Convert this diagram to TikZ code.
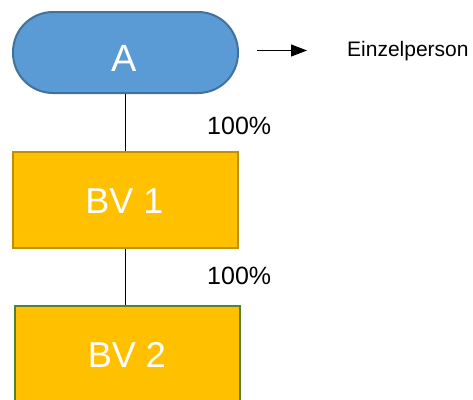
\documentclass[tikz,border=0pt]{standalone}
\usepackage{fontspec}
\setmainfont{Liberation Sans}
\usetikzlibrary{arrows.meta}
\definecolor{ablue}{HTML}{5B9BD5}
\definecolor{ablueb}{HTML}{41719C}
\definecolor{goldf}{HTML}{FFC000}
\definecolor{goldb}{HTML}{BF9000}
\definecolor{greenb}{HTML}{548235}
\tikzset{
  pill/.style={draw=ablueb, fill=ablue, line width=2pt, rounded corners=40pt, minimum width=225pt, minimum height=81pt, inner sep=0pt},
  bvbox/.style={fill=goldf, line width=2pt, minimum width=225pt, inner sep=0pt},
  conn/.style={draw=black, line width=1.5pt},
  boxtext/.style={text=white, inner sep=0pt, anchor=base},
  pct/.style={inner sep=0pt, anchor=base west, font=\fontsize{25}{28}\selectfont},
}
\begin{document}
\begin{tikzpicture}[x=1pt,y=-1pt]
\useasboundingbox (0,0) rectangle (473,399);
\clip (0,0) rectangle (473,399);
\node[pill] (A) at (125.5,52.5) {};
\node[bvbox, draw=goldb, minimum height=96pt] (BV1) at (125.5,200) {};
\node[bvbox, draw=greenb, line width=2.5pt, minimum height=110pt] (BV2) at (127.5,361) {};
\node[boxtext, font=\fontsize{38}{40}\selectfont] (tA) at (124.5,71) {A};
\node[boxtext, font=\fontsize{36}{40}\selectfont] (tBV1) at (124.5,213) {BV 1};
\node[boxtext, font=\fontsize{36}{40}\selectfont] (tBV2) at (127,367) {BV 2};
\draw[conn] (A.south) -- (BV1.north);
\draw[conn] (BV1.south) -- (BV1.south |- BV2.north);
\node[pct] (p1) at (207,134) {100\%};
\node[pct] (p2) at (207,284) {100\%};
\coordinate (as) at (257,50.5);
\coordinate (ae) at (307,50.5);
\draw[line width=1.2pt, -{Triangle[length=16pt,width=12pt]}] (as) -- (ae);
\node[inner sep=0pt, anchor=base west, font=\fontsize{21}{24}\selectfont] (E) at (347,56) {Einzelperson};
\end{tikzpicture}
\end{document}
